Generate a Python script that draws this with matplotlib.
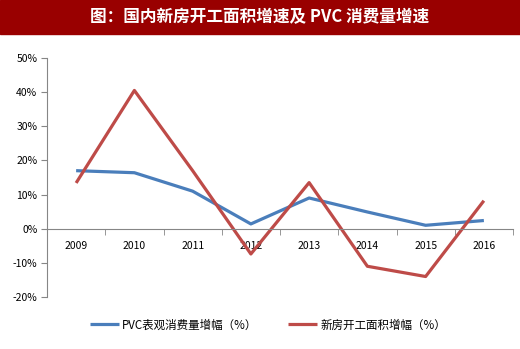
import matplotlib.pyplot as plt
from matplotlib.patches import Rectangle
from matplotlib.ticker import FixedLocator, PercentFormatter

plt.rcParams['font.family'] = ['Noto Sans CJK SC', 'DejaVu Sans']
plt.rcParams['axes.unicode_minus'] = False

years = ['2009', '2010', '2011', '2012', '2013', '2014', '2015', '2016']
pvc = [17.0, 16.4, 11.0, 1.4, 9.0, 4.9, 1.0, 2.4]
house = [13.4, 40.5, 17.0, -7.4, 13.5, -11.0, -14.0, 8.2]
title = '图：国内新房开工面积增速及 PVC 消费量增速'
labels = ['PVC表观消费量增幅（%）', '新房开工面积增幅（%）']

fig = plt.figure(figsize=(5.2, 3.49), dpi=100)
fig.patches.append(Rectangle((0, 1 - 34 / 349), 1, 34 / 349, transform=fig.transFigure,
                             color='#990000', zorder=0))
fig.text(0.5, 1 - 17 / 349, title, color='white', fontsize=12, fontweight='bold',
         ha='center', va='center')

ax = fig.add_axes([47 / 520, 1 - 297 / 349, 466 / 520, 239 / 349])
x = list(range(len(years)))
l1, = ax.plot(x, pvc, color='#4a7ebb', lw=2.3, solid_capstyle='butt')
l2, = ax.plot(x, house, color='#be4b48', lw=2.3, solid_capstyle='butt')

ax.set_xlim(-0.5, len(years) - 0.5)
ax.set_ylim(-20, 50)
ax.set_yticks(range(-20, 51, 10))
ax.yaxis.set_major_formatter(PercentFormatter(decimals=0))

ax.set_xticks(x)
ax.set_xticklabels(years)
ax.xaxis.set_minor_locator(FixedLocator([i - 0.5 for i in range(len(years) + 1)]))
ax.tick_params(axis='x', which='major', length=0, pad=9, labelsize=7.5, colors='black')
ax.tick_params(axis='x', which='minor', length=4, color='#868686', direction='out')
ax.tick_params(axis='y', length=4, color='#868686', labelsize=7.5, pad=3)

for s in ['top', 'right']:
    ax.spines[s].set_visible(False)
ax.spines['bottom'].set_position(('data', 0))
ax.spines['bottom'].set_color('#868686')
ax.spines['left'].set_color('#868686')

fig.legend([l1, l2], labels, loc='center', bbox_to_anchor=(268 / 520, 1 - 325 / 349), ncol=2,
           frameon=False, fontsize=8.3, handlelength=2.5, columnspacing=2.7, handletextpad=0.25)

fig.savefig('out.png', dpi=100)
